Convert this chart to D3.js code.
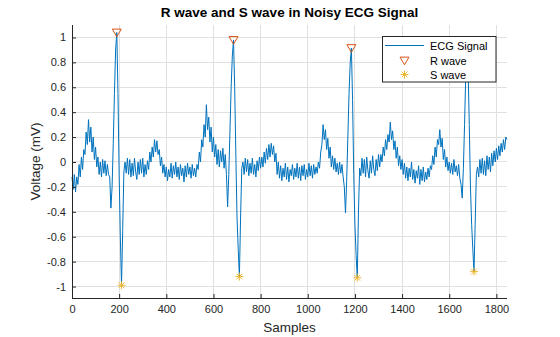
<!DOCTYPE html>
<html>
<head>
<meta charset="utf-8">
<script src="https://cdn.jsdelivr.net/npm/d3@7"></script>
<style>
  html, body { margin: 0; padding: 0; background: #fff; }
  svg { display: block; font-family: "Liberation Sans", Arial, Helvetica, sans-serif; }
</style>
</head>
<body>
<svg id="chart" width="560" height="337"></svg>
<script>
// ---- data ----
const sampleStep = 5;
const ecgValues = [
  -0.12, -0.22, -0.1, -0.24, -0.12,
  -0.18, -0.02, -0.12, 0.04, -0.06, 0.1,
  0.06, 0.24, 0.14, 0.34, 0.16, 0.28,
  0.08, 0.2, 0.02, 0.12,
  -0.04, 0.04, -0.1, 0.0, -0.12, 0.02, -0.09, 0.01, -0.11, -0.02, -0.1,
  -0.12, -0.37, -0.2, 0.15, 0.55, 0.9, 1.04, 0.55, -0.1, -0.6, -0.99, -0.55, -0.08, 0.0,
  -0.09, 0.03, -0.1, 0.02, -0.12, -0.01, -0.11, 0.03, -0.08, -0.14, 0.0, -0.1, 0.02, -0.09, 0.03, -0.12, -0.02, -0.1, 0.01,
  -0.06, 0.08, 0.0, 0.12, 0.04, 0.18, 0.08, 0.17, 0.06, 0.1,
  -0.03, 0.04, -0.09, -0.02, -0.12, -0.04, -0.15, -0.06,
  -0.12, -0.01, -0.13, -0.03, -0.1, 0.0, -0.12, -0.04, -0.14, -0.02, -0.11, -0.05, -0.16, -0.03, -0.12, -0.01, -0.1, -0.04, -0.13, -0.02, -0.11, -0.05, -0.12, -0.02,
  -0.06, 0.08, 0.0, 0.18, 0.12, 0.3, 0.2, 0.46, 0.26,
  0.36, 0.16, 0.28, 0.08, 0.2, 0.04, 0.14,
  -0.02, 0.1, -0.04, 0.09, 0.0, 0.11, -0.05, 0.06, -0.1,
  -0.36, -0.1, 0.25, 0.6, 0.85, 0.98, 0.6, 0.05, -0.45, -0.7, -0.92, -0.45, -0.05, 0.0,
  -0.1, 0.03, -0.08, 0.02, -0.11, -0.01, -0.09, 0.03, -0.1, -0.02, -0.12, 0.01, -0.07, 0.04, -0.05,
  0.04, -0.04, 0.08, -0.01, 0.11, 0.02, 0.14, 0.04, 0.15, 0.06, 0.13, 0.0, 0.07,
  -0.1, 0.0, -0.13, -0.03, -0.15, -0.05, -0.12, -0.01, -0.14, -0.04, -0.16, -0.06, -0.11, -0.02, -0.14, -0.05, -0.12, -0.01, -0.13, -0.04, -0.15, -0.03, -0.11, -0.02, -0.14, -0.06, -0.12, -0.01, -0.11, -0.03, -0.13, -0.02, -0.1, -0.04, -0.09, 0.0, -0.05,
  0.08, 0.14, 0.3, 0.18, 0.26, 0.1, 0.19, 0.03, 0.12,
  -0.04, 0.05, -0.06, 0.03, -0.08, -0.01, -0.1, 0.0, -0.09, -0.02, -0.12,
  -0.2, -0.41, -0.15, 0.2, 0.55, 0.8, 0.915, 0.5, -0.1, -0.5, -0.75, -0.93, -0.4, -0.05,
  -0.11, 0.03, -0.09, 0.02, -0.12, 0.04, -0.07, -0.13, 0.01, -0.09, 0.05, -0.06, -0.11, 0.02, -0.07, 0.06, -0.04,
  0.06, 0.0, 0.12, 0.05, 0.18, 0.1, 0.22, 0.16, 0.32,
  0.18, 0.25, 0.1, 0.17, 0.03, 0.12, -0.03, 0.05, -0.06, 0.02,
  -0.1, -0.01, -0.13, -0.04, -0.15, -0.05, -0.12, 0.0, -0.14, -0.06, -0.17, -0.07, -0.13, -0.03, -0.18, -0.06, -0.15, -0.04, -0.16, -0.08, -0.14, -0.05, -0.12, -0.03,
  -0.06, 0.05, -0.02, 0.12, 0.04, 0.18, 0.14, 0.26,
  0.12, 0.19, 0.02, 0.1, -0.04, 0.04, -0.07,
  0.0, -0.09, -0.01, -0.1, 0.02, -0.08, -0.03, -0.11, -0.02, -0.13,
  -0.18, -0.29, -0.05, 0.3, 0.7, 0.95, 0.75, 0.3, -0.2, -0.5, -0.7, -0.88, -0.5, -0.1,
  -0.04, -0.12, 0.02, -0.09, 0.03, -0.1, 0.01, -0.11, 0.05, -0.06, 0.04, -0.08, 0.07, -0.03, 0.09, 0.0, 0.11, 0.02, 0.13, 0.05, 0.15, 0.08, 0.18, 0.1, 0.2, 0.18
];
const rSamples = [190, 685, 1185, 1675];
const rValues  = [1.04, 0.98, 0.915, 0.95];
const sSamples = [210, 710, 1210, 1705];
const sValues  = [-0.99, -0.92, -0.93, -0.88];
const xTicks = [0, 200, 400, 600, 800, 1000, 1200, 1400, 1600, 1800];
const yTicks = [-1, -0.8, -0.6, -0.4, -0.2, 0, 0.2, 0.4, 0.6, 0.8, 1];
const yTickLabels = ["-1", "-0.8", "-0.6", "-0.4", "-0.2", "0", "0.2", "0.4", "0.6", "0.8", "1"];
const xDomain = [0, 1845];
const yDomain = [-1.092, 1.1];
const legendLabels = ["ECG Signal", "R wave", "S wave"];

// ---- layout ----
const svg = d3.select("#chart");
const m = { left: 72, right: 507, top: 25, bottom: 298 };
const x = d3.scaleLinear().domain(xDomain).range([m.left, m.right]);
const y = d3.scaleLinear().domain(yDomain).range([m.bottom, m.top]);

const blue = "#0072BD", orange = "#D95319", yellow = "#EDB120";
const gridColor = "#e0e0e0", axisColor = "#262626";

// grid
const grid = svg.append("g");
grid.selectAll("line.gx").data(xTicks).join("line")
  .attr("x1", d => x(d)).attr("x2", d => x(d))
  .attr("y1", m.top).attr("y2", m.bottom)
  .attr("stroke", gridColor).attr("stroke-width", 1).attr("shape-rendering", "crispEdges");
grid.selectAll("line.gy").data(yTicks).join("line")
  .attr("x1", m.left).attr("x2", m.right)
  .attr("y1", d => y(d)).attr("y2", d => y(d))
  .attr("stroke", gridColor).attr("stroke-width", 1).attr("shape-rendering", "crispEdges");

// ECG line
const pts = ecgValues.map((v, i) => [i * sampleStep, v]);
svg.append("path")
  .datum(pts)
  .attr("fill", "none")
  .attr("stroke", blue)
  .attr("stroke-width", 1)
  .attr("stroke-linejoin", "round")
  .attr("d", d3.line().x(d => x(d[0])).y(d => y(d[1])));

// markers
const triPath = (cx, cy, s) => `M${cx - s},${cy - s * 0.75}L${cx + s},${cy - s * 0.75}L${cx},${cy + s * 0.95}Z`;
const starPath = (cx, cy, s) => {
  const d = s * 0.7071;
  return `M${cx - s},${cy}L${cx + s},${cy}M${cx},${cy - s}L${cx},${cy + s}` +
         `M${cx - d},${cy - d}L${cx + d},${cy + d}M${cx - d},${cy + d}L${cx + d},${cy - d}`;
};
svg.append("g").selectAll("path").data(rSamples.map((s, i) => [s, rValues[i]])).join("path")
  .attr("d", d => triPath(x(d[0]), y(d[1]), 4.5))
  .attr("fill", "none").attr("stroke", orange).attr("stroke-width", 1);
svg.append("g").selectAll("path").data(sSamples.map((s, i) => [s, sValues[i]])).join("path")
  .attr("d", d => starPath(x(d[0]), y(d[1]), 4))
  .attr("fill", "none").attr("stroke", yellow).attr("stroke-width", 0.9);

// axes
const fontSize = "11px";
const xAxis = d3.axisBottom(x).tickValues(xTicks).tickFormat(d3.format("d")).tickSize(-4).tickPadding(7);
const gx = svg.append("g").attr("transform", `translate(0,${m.bottom})`).call(xAxis);
const yAxis = d3.axisLeft(y).tickValues(yTicks).tickFormat((d, i) => yTickLabels[i]).tickSize(-4).tickPadding(6);
const gy = svg.append("g").attr("transform", `translate(${m.left},0)`).call(yAxis);
[gx, gy].forEach(g => {
  g.select(".domain").remove();
  g.selectAll(".tick line").attr("stroke", axisColor).attr("stroke-width", 1);
  g.selectAll(".tick text").attr("fill", axisColor).style("font-size", fontSize)
    .style("font-family", '"Liberation Sans", Arial, Helvetica, sans-serif');
});
svg.append("line").attr("x1", m.left + 0.5).attr("x2", m.left + 0.5).attr("y1", m.top).attr("y2", m.bottom + 0.5)
  .attr("stroke", axisColor).attr("stroke-width", 1);
svg.append("line").attr("x1", m.left).attr("x2", m.right).attr("y1", m.bottom + 0.5).attr("y2", m.bottom + 0.5)
  .attr("stroke", axisColor).attr("stroke-width", 1);

// labels
svg.append("text").attr("x", (m.left + m.right) / 2).attr("y", 17)
  .attr("text-anchor", "middle").attr("font-weight", "bold").attr("font-size", "13.5px")
  .attr("fill", "#000").text("R wave and S wave in Noisy ECG Signal");
svg.append("text").attr("x", (m.left + m.right) / 2).attr("y", 332)
  .attr("text-anchor", "middle").attr("font-size", "13.5px").attr("fill", axisColor).text("Samples");
svg.append("text").attr("transform", `translate(40,${(m.top + m.bottom) / 2}) rotate(-90)`)
  .attr("text-anchor", "middle").attr("font-size", "13.5px").attr("fill", axisColor).text("Voltage (mV)");

// legend
const lg = svg.append("g");
lg.append("rect").attr("x", 382.5).attr("y", 36.5).attr("width", 113.5).attr("height", 45.5)
  .attr("fill", "#fff").attr("stroke", axisColor).attr("stroke-width", 1);
const rowY = [45.5, 60.5, 74.5];
lg.append("line").attr("x1", 385).attr("x2", 424).attr("y1", rowY[0]).attr("y2", rowY[0])
  .attr("stroke", blue).attr("stroke-width", 1);
lg.append("path").attr("d", triPath(404.5, rowY[1], 4.5)).attr("fill", "none").attr("stroke", orange);
lg.append("path").attr("d", starPath(404.5, rowY[2], 4)).attr("fill", "none").attr("stroke", yellow).attr("stroke-width", 0.9);
lg.selectAll("text").data(legendLabels).join("text")
  .attr("x", 430).attr("y", (d, i) => rowY[i] + 4)
  .attr("font-size", "11px").attr("fill", "#000").text(d => d);
</script>
</body>
</html>
